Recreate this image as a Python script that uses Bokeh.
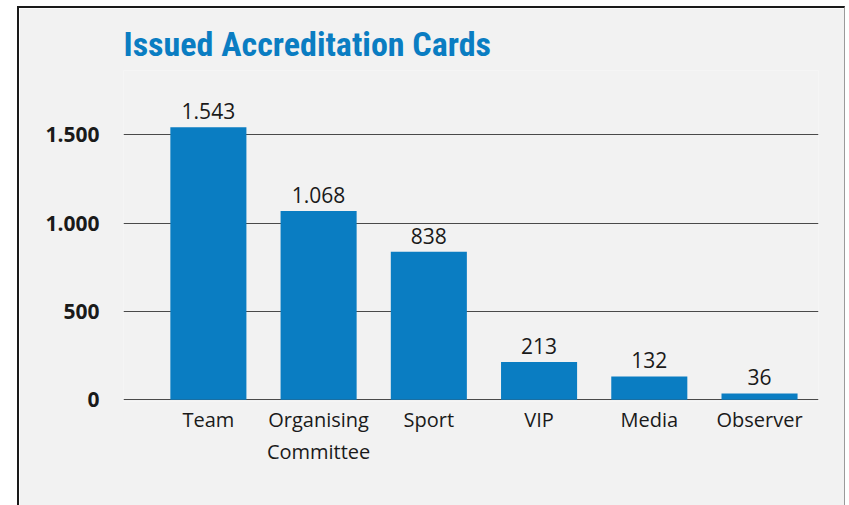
from bokeh.plotting import figure
from bokeh.models import ColumnDataSource, FixedTicker, LabelSet
from bokeh.core.properties import value
from bokeh.embed import file_html
from bokeh.resources import INLINE

# ---- data ----
categories = ["Team", "Organising\nCommittee", "Sport", "VIP", "Media", "Observer"]
counts = [1543, 1068, 838, 213, 132, 36]
value_labels = ["1.543", "1.068", "838", "213", "132", "36"]
y_ticks = [0, 500, 1000, 1500]
y_tick_labels = ["0", "500", "1.000", "1.500"]

BLUE = "#0a7dc2"
TXT = "#1a1a1a"
PANEL = "#f2f2f2"
FONT = "Open Sans"

x = list(range(len(categories)))
src = ColumnDataSource(dict(x=x, top=counts, label=value_labels))

p = figure(width=828, height=505, output_backend="svg", toolbar_location=None,
           x_range=(-0.77, 5.535), y_range=(-10, 1864),
           min_border_left=104, min_border_right=29,
           min_border_top=62, min_border_bottom=112,
           background_fill_color=PANEL, border_fill_color=PANEL,
           outline_line_color=None,
           margin=(6, 0, 0, 17),
           styles={"border-top": "2px solid #1a1a1a",
                   "border-left": "2px solid #1a1a1a",
                   "border-right": "1px solid #9a9a9a",
                   "border-bottom": "none"})

p.vbar(x="x", top="top", bottom=0, width=0.69, source=src,
       fill_color=BLUE, line_color=None)

labels = LabelSet(x="x", y="top", text="label", source=src,
                  text_align="center", text_baseline="alphabetic", y_offset=8,
                  text_font=value(FONT), text_font_size="21px", text_color=TXT)
p.add_layout(labels)

# title
p.title.text = "Issued Accreditation Cards"
p.title.text_font = "'Liberation Sans Narrow', 'Roboto Condensed', Roboto"
p.title.text_font_size = "34px"
p.title.text_font_style = "bold"
p.title.text_color = BLUE
p.title.align = "left"
p.title.standoff = 14

# grid
p.xgrid.visible = False
p.ygrid.ticker = FixedTicker(ticks=y_ticks)
p.ygrid.grid_line_color = "#4a4a4a"
p.ygrid.grid_line_width = 1

# y axis
p.yaxis.ticker = FixedTicker(ticks=y_ticks)
p.yaxis.major_label_overrides = dict(zip(y_ticks, y_tick_labels))
p.yaxis.axis_line_color = None
p.yaxis.major_tick_line_color = None
p.yaxis.minor_tick_line_color = None
p.yaxis.major_tick_out = 0
p.yaxis.major_label_standoff = 24
p.yaxis.major_label_text_font = FONT
p.yaxis.major_label_text_font_style = "bold"
p.yaxis.major_label_text_font_size = "21px"
p.yaxis.major_label_text_color = TXT

# x axis
p.xaxis.ticker = FixedTicker(ticks=x)
p.xaxis.major_label_overrides = dict(zip(x, categories))
p.xaxis.axis_line_color = None
p.xaxis.major_tick_line_color = None
p.xaxis.minor_tick_line_color = None
p.xaxis.major_tick_out = 0
p.xaxis.major_label_standoff = 4
p.xaxis.major_label_text_font = FONT
p.xaxis.major_label_text_font_size = "20px"
p.xaxis.major_label_text_color = TXT

open("out.html", "w").write(file_html(p, INLINE))
